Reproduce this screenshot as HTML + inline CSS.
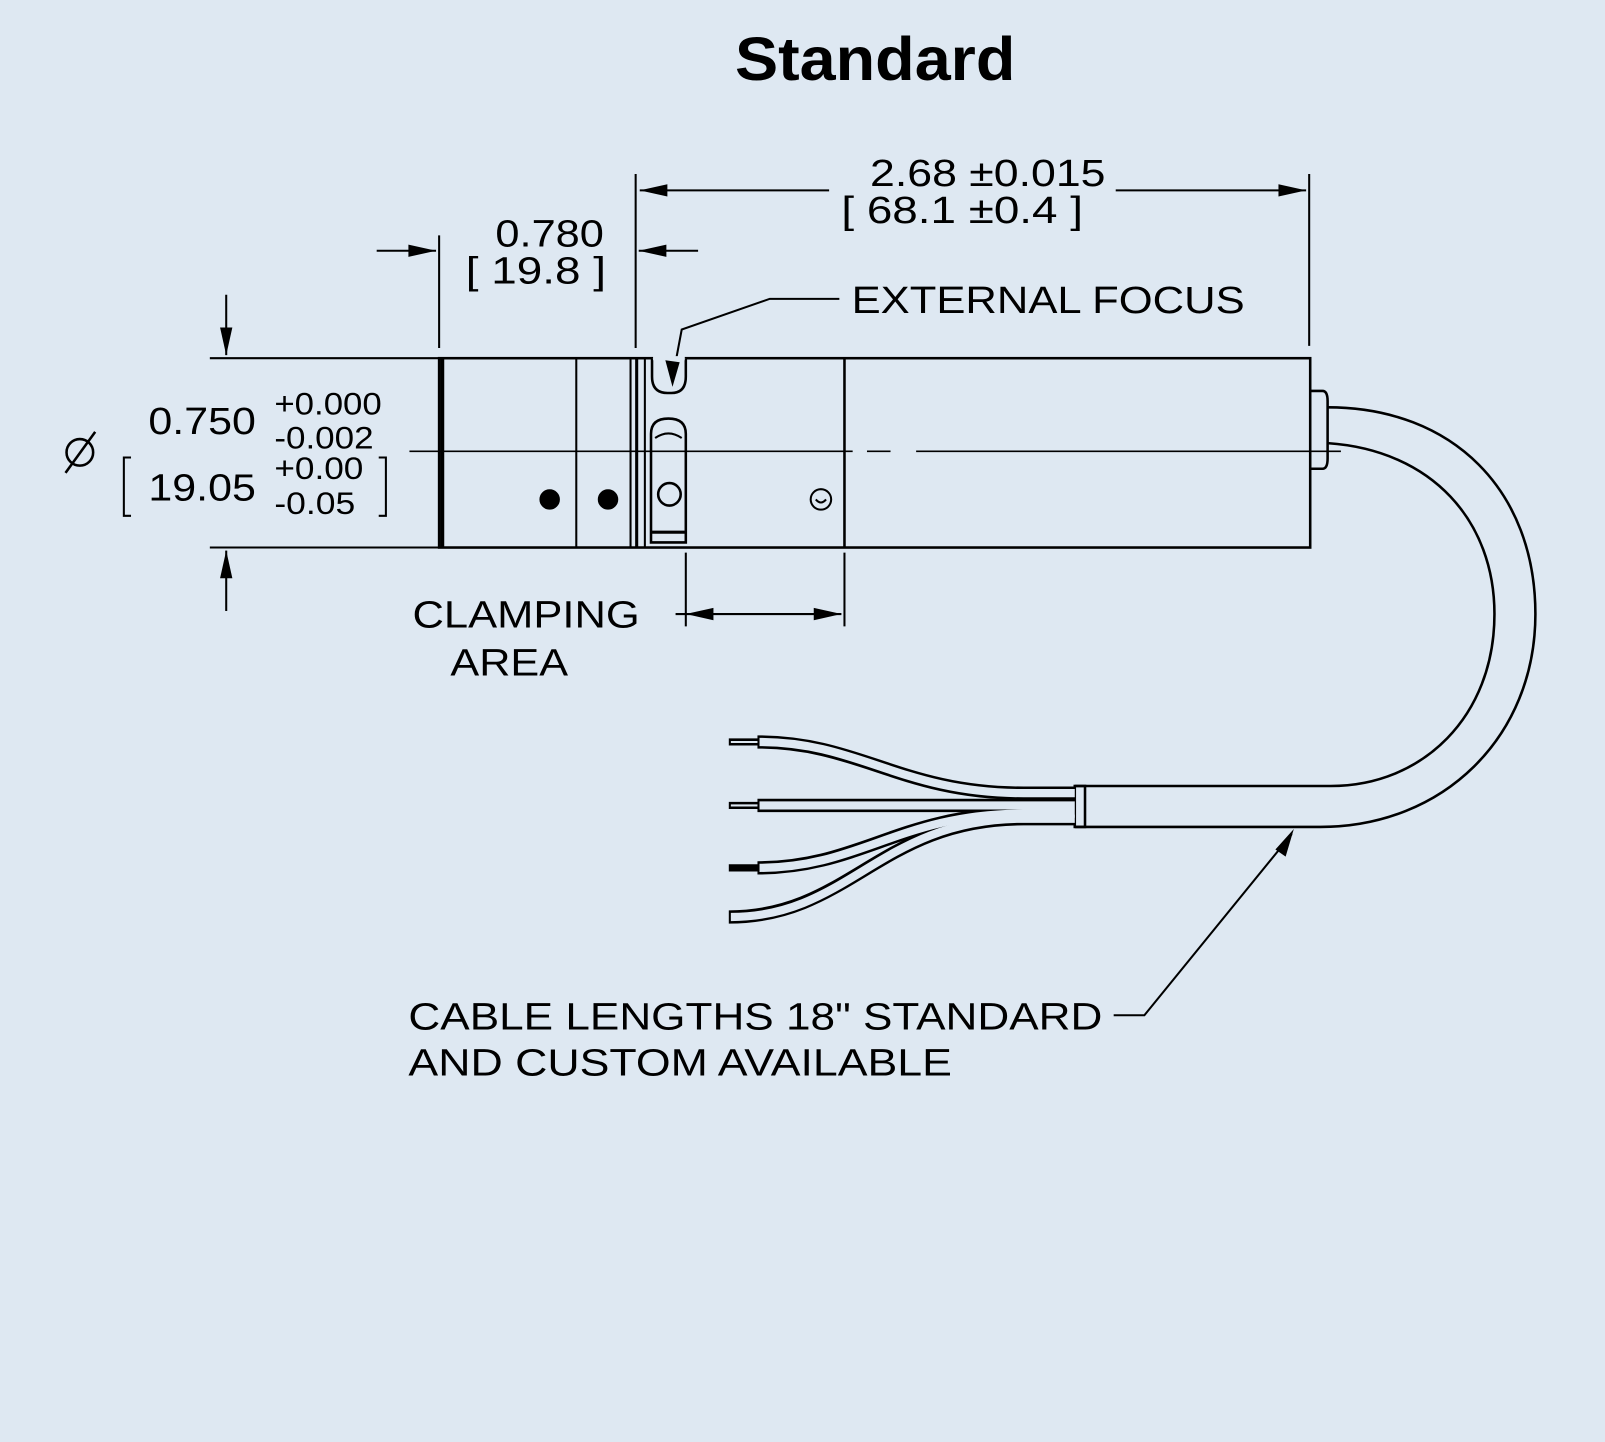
<!DOCTYPE html>
<html><head><style>html,body{margin:0;padding:0;background:#dee8f2;}svg{display:block}</style></head>
<body>
<svg width="1605" height="1442" viewBox="0 0 1568 1409" preserveAspectRatio="none" xmlns="http://www.w3.org/2000/svg" font-family="Liberation Sans, Arial, sans-serif">
<rect width="1568" height="1409" fill="#dee8f2"/>
<text x="718" y="78" font-size="60" font-weight="bold" textLength="274" lengthAdjust="spacingAndGlyphs">Standard</text>
<g stroke="#000" fill="none" stroke-width="2">
<line x1="621" y1="170" x2="621" y2="340"/>
<line x1="1279" y1="170" x2="1279" y2="338"/>
<line x1="429" y1="230" x2="429" y2="340"/>
<line x1="205" y1="350" x2="428" y2="350"/>
<line x1="205" y1="535" x2="428" y2="535"/>
<line x1="670" y1="540" x2="670" y2="612"/>
<line x1="825" y1="540" x2="825" y2="612"/>
<line x1="625" y1="186" x2="810" y2="186"/>
<line x1="1090" y1="186" x2="1276" y2="186"/>
<line x1="368" y1="245" x2="426" y2="245"/>
<line x1="624" y1="245" x2="682" y2="245"/>
<line x1="221" y1="288" x2="221" y2="347"/>
<line x1="221" y1="538" x2="221" y2="597"/>
<line x1="660" y1="600" x2="822" y2="600"/>
<polyline points="820,292 752,292 666,322 657,370"/>
<polyline points="1088,992 1118,992 1262,815"/>
<line x1="400" y1="441" x2="833" y2="441" stroke-width="1.5"/>
<line x1="847" y1="441" x2="870" y2="441" stroke-width="1.5"/>
<line x1="895" y1="441" x2="1310" y2="441" stroke-width="1.5"/>
<rect x="429" y="350" width="851" height="185" stroke-width="2.5"/>
<line x1="432" y1="350" x2="432" y2="535" stroke-width="4"/>
<line x1="563" y1="350" x2="563" y2="535"/>
<line x1="616" y1="350" x2="616" y2="535"/>
<line x1="622" y1="350" x2="622" y2="535" stroke-width="3"/>
<line x1="630" y1="350" x2="630" y2="535" stroke-width="2"/>
<line x1="825" y1="350" x2="825" y2="535" stroke-width="2.5"/>
<path d="M637,350 V368 Q637,384 652,384 H656 Q670,384 670,368 V350" fill="#dee8f2" stroke-width="2.5"/>
<line x1="638" y1="350" x2="669" y2="350" stroke="#dee8f2" stroke-width="4"/>
<path d="M636,530 V424 Q636,409 653,409 Q670,409 670,424 V530 Z" stroke-width="2.5"/>
<path d="M640,428 Q653,419 666,428"/>
<line x1="637" y1="520" x2="669" y2="520" stroke-width="3"/>
<circle cx="654" cy="483" r="11" stroke-width="2.5"/>
<circle cx="537" cy="488" r="9" fill="#000"/>
<circle cx="594" cy="488" r="9" fill="#000"/>
<circle cx="802" cy="488" r="10" stroke-width="2"/>
<path d="M797,488 Q802,494 807,488"/>
<path d="M1280,382 H1292 Q1297,382 1297,392 V448 Q1297,458 1292,458 H1280" stroke-width="2.5"/>
<path d="M1297,398 C1420,398 1500,480 1500,600 C1500,720 1410,808 1290,808 H1050" stroke-width="2.5"/>
<path d="M1297,433 C1400,440 1460,510 1460,600 C1460,700 1390,768 1300,768 H1050" stroke-width="2.5"/>
<rect x="1050" y="768" width="10" height="40" stroke-width="2.5"/>
</g>
<g fill="none" stroke-linecap="butt">
<g stroke="#000" stroke-width="13">
<path d="M740,725 C840,725 880,775 1000,775 H1050"/>
<path d="M740,787 H1050"/>
<path d="M740,848 C840,848 880,795 1000,795 H1050"/>
<path d="M712,896 C830,896 860,800 1000,800 H1050"/>
</g>
<g stroke="#dee8f2" stroke-width="8">
<path d="M742,725 C840,725 880,775 1000,775 H1050"/>
<path d="M742,787 H1050"/>
<path d="M742,848 C840,848 880,795 1000,795 H1050"/>
<path d="M714,896 C830,896 860,800 1000,800 H1050"/>
</g>
<g stroke="#000" stroke-width="7">
<line x1="712" y1="725" x2="742" y2="725"/>
<line x1="712" y1="787" x2="742" y2="787"/>
<line x1="712" y1="848" x2="742" y2="848"/>
</g>
<g stroke="#dee8f2" stroke-width="2">
<line x1="714" y1="725" x2="740" y2="725"/>
<line x1="714" y1="787" x2="740" y2="787"/>
</g>
</g>
<g fill="#000">
<polygon points="625,186 652,180 652,192"/>
<polygon points="1276,186 1249,180 1249,192"/>
<polygon points="426,245 399,239 399,251"/>
<polygon points="624,245 651,239 651,251"/>
<polygon points="221,347 215,320 227,320"/>
<polygon points="221,538 215,565 227,565"/>
<polygon points="670,600 697,594 697,606"/>
<polygon points="822,600 795,594 795,606"/>
<polygon points="657,378 650,352 664,354"/>
<polygon points="1264,810 1246,830 1256,837"/>
</g>
<g font-size="37" fill="#000" lengthAdjust="spacingAndGlyphs">
<text x="850" y="182" textLength="230" lengthAdjust="spacingAndGlyphs">2.68 ±0.015</text>
<text x="822" y="218" textLength="236" lengthAdjust="spacingAndGlyphs">[ 68.1 ±0.4 ]</text>
<text x="484" y="241" textLength="106" lengthAdjust="spacingAndGlyphs">0.780</text>
<text x="455" y="277" textLength="137" lengthAdjust="spacingAndGlyphs">[ 19.8 ]</text>
<text x="832" y="306" textLength="384" lengthAdjust="spacingAndGlyphs">EXTERNAL FOCUS</text>
<text x="145" y="424" textLength="105" lengthAdjust="spacingAndGlyphs">0.750</text>
<text x="145" y="489" textLength="105" lengthAdjust="spacingAndGlyphs">19.05</text>
<text x="403" y="613" textLength="222" lengthAdjust="spacingAndGlyphs">CLAMPING</text>
<text x="440" y="660" textLength="115" lengthAdjust="spacingAndGlyphs">AREA</text>
<text x="399" y="1006" textLength="678" lengthAdjust="spacingAndGlyphs">CABLE LENGTHS 18" STANDARD</text>
<text x="399" y="1051" textLength="531" lengthAdjust="spacingAndGlyphs">AND CUSTOM AVAILABLE</text>
</g>
<g font-size="31" fill="#000">
<text x="268" y="405" textLength="105" lengthAdjust="spacingAndGlyphs">+0.000</text>
<text x="268" y="438" textLength="97" lengthAdjust="spacingAndGlyphs">-0.002</text>
<text x="268" y="468" textLength="87" lengthAdjust="spacingAndGlyphs">+0.00</text>
<text x="268" y="502" textLength="79" lengthAdjust="spacingAndGlyphs">-0.05</text>
</g>
<g stroke="#000" fill="none" stroke-width="2.5">
<circle cx="78" cy="442" r="13"/>
<line x1="64" y1="462" x2="93" y2="422"/>
</g>
<g stroke="#000" fill="none" stroke-width="2">
<polyline points="128,447 121,447 121,504 128,504"/>
<polyline points="370,447 377,447 377,504 370,504"/>
</g>
</svg>
</body></html>
